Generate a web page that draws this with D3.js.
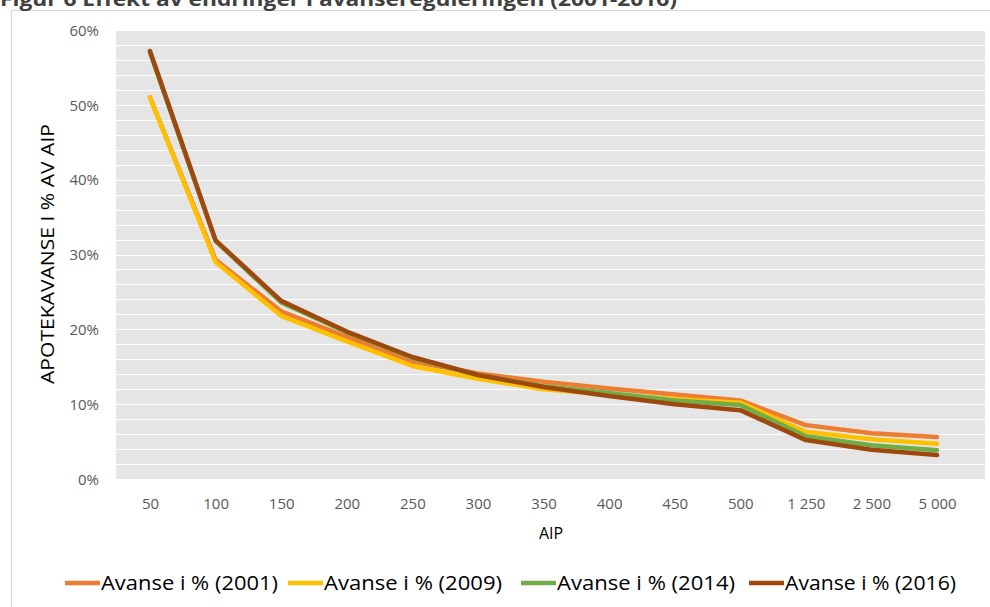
<!DOCTYPE html>
<html><head><meta charset="utf-8">
<script src="https://cdn.jsdelivr.net/npm/d3@7"></script>
<style>body{margin:0;background:#fff}svg{display:block}</style>
</head><body>
<svg id="c" width="990" height="607"></svg>
<script>
const categories = ["50","100","150","200","250","300","350","400","450","500","1 250","2 500","5 000"];
const s2001 = [51.0, 29.3, 22.4, 19.0, 15.7, 14.1, 13.0, 12.1, 11.3, 10.5, 7.2, 6.1, 5.6];
const s2009 = [51.0, 29.0, 21.8, 18.4, 15.1, 13.4, 12.0, 11.3, 10.7, 10.2, 6.3, 5.3, 4.7];
const s2014 = [57.0, 31.8, 23.6, 19.6, 16.2, 13.9, 12.4, 11.5, 10.5, 9.9, 5.7, 4.5, 3.85];
const s2016 = [57.2, 31.9, 23.8, 19.7, 16.3, 13.9, 12.3, 11.1, 10.0, 9.2, 5.2, 3.9, 3.2];
const seriesNames = ["Avanse i % (2001)","Avanse i % (2009)","Avanse i % (2014)","Avanse i % (2016)"];
const yTicks = [0,10,20,30,40,50,60];
const colors = ["#ED7D31","#FFC000","#70AD47","#9E480E"];
const series = [s2001,s2009,s2014,s2016];

const svg = d3.select("#c");
const font = "'Open Sans', 'Liberation Sans', sans-serif";
const plotL = 116, plotR = 985, plotT = 30, plotB = 479;

// outer chart border
svg.append("rect").attr("x",11.5).attr("y",10.5).attr("width",1000).attr("height",700)
  .attr("fill","#fff").attr("stroke","#d9d9d9");

// title (cropped at top, as in the reference)
svg.append("text").attr("x",0).attr("y",6)
  .attr("font-family",font).attr("font-weight","bold").attr("font-size",19)
  .attr("fill","#404040").attr("textLength",677).attr("lengthAdjust","spacingAndGlyphs")
  .text("Figur 6 Effekt av endringer i avansereguleringen (2001-2016)");

const x = d3.scalePoint().domain(categories).range([150, 937]);
const y = d3.scaleLinear().domain([0,60]).range([plotB, plotT]);

svg.append("rect").attr("x",plotL).attr("y",plotT).attr("width",plotR-plotL).attr("height",plotB-plotT)
  .attr("fill","#E6E5E5");

// gridlines every 2%
const grid = d3.range(2,60,2).concat([60]);
svg.append("g").selectAll("line").data(grid).join("line")
  .attr("x1",plotL).attr("x2",plotR)
  .attr("y1",d=>Math.round(y(d))+0.5).attr("y2",d=>Math.round(y(d))+0.5)
  .attr("stroke","#ffffff").attr("stroke-width",1);

// y axis labels
const yAxis = d3.axisLeft(y).tickValues(yTicks).tickFormat(d=>d+"%").tickSize(0).tickPadding(0);
const ya = svg.append("g").attr("transform",`translate(99,0)`).call(yAxis);
ya.select(".domain").remove();
ya.selectAll("text").attr("font-family",font).attr("font-size",15).attr("fill","#595959").attr("dy","0.35em");

// x axis labels
const xAxis = d3.axisBottom(x).tickSize(0).tickPadding(0);
const xa = svg.append("g").attr("transform",`translate(0,${plotB+19})`).call(xAxis);
xa.select(".domain").remove();
xa.selectAll("text").attr("font-family",font).attr("font-size",15).attr("fill","#595959").attr("dy","0.7em");

// axis titles
svg.append("text").attr("transform","translate(54,254) rotate(-90)")
  .attr("text-anchor","middle").attr("font-family",font).attr("font-size",18).attr("fill","#000")
  .attr("textLength",260).attr("lengthAdjust","spacingAndGlyphs")
  .text("APOTEKAVANSE I % AV AIP");
svg.append("text").attr("x",551).attr("y",539).attr("text-anchor","middle")
  .attr("font-family",font).attr("font-size",16).attr("fill","#000").text("AIP");

// lines
const line = d3.line().x((d,i)=>x(categories[i])).y(d=>y(d));
series.forEach((s,k)=>{
  svg.append("path").datum(s).attr("d",line).attr("fill","none")
    .attr("stroke",colors[k]).attr("stroke-width",4.5)
    .attr("stroke-linejoin","round").attr("stroke-linecap","round");
});

// legend
const legX = [65, 288, 521, 749];
const legW = [177, 178, 178, 171];
seriesNames.forEach((n,k)=>{
  const g = svg.append("g");
  g.append("line").attr("x1",legX[k]).attr("x2",legX[k]+35).attr("y1",583).attr("y2",583)
    .attr("stroke",colors[k]).attr("stroke-width",4.5);
  g.append("text").attr("x",legX[k]+36).attr("y",590)
    .attr("font-family",font).attr("font-size",20).attr("fill","#000")
    .attr("textLength",legW[k]).attr("lengthAdjust","spacingAndGlyphs").text(n);
});
</script>
</body></html>
